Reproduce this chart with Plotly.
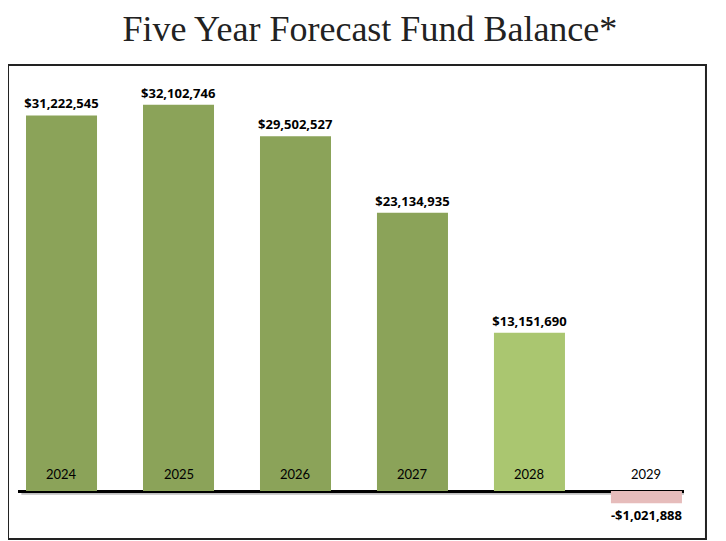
import plotly.graph_objects as go

years = ["2024", "2025", "2026", "2027", "2028", "2029"]
balances = [31222545, 32102746, 29502527, 23134935, 13151690, -1021888]
bar_colors = ["#8BA359", "#8BA359", "#8BA359", "#8BA359", "#AAC670", "#E6BCBB"]

def fmt(v):
    return ("-$" if v < 0 else "$") + f"{abs(v):,}"

labels = [fmt(v) for v in balances]
xpos = list(range(len(years)))

fig = go.Figure()
fig.add_trace(go.Bar(
    x=xpos, y=balances,
    marker=dict(color=bar_colors, line=dict(width=0)),
    width=0.607,
    text=labels, textposition="outside", constraintext="none",
    textfont=dict(family="Open Sans, Lato, sans-serif", size=13, color="#000000", weight="bold"),
    cliponaxis=False,
    hoverinfo="skip",
))

for i, yr in enumerate(years):
    fig.add_annotation(x=i, y=0, text=yr, showarrow=False, yanchor="bottom", yshift=7,
                       font=dict(family="Lato, Open Sans, sans-serif", size=13, color="#000000"))

# soft shadow under the baseline
fig.add_shape(type="line", xref="paper", yref="y", x0=0.005, x1=1.0, y0=-0.22e6, y1=-0.22e6,
              line=dict(color="rgba(0,0,0,0.25)", width=2), layer="below")

# chart frame
fig.add_shape(type="rect", xref="paper", yref="paper", x0=-0.0150, x1=1.0330, y0=-0.0196, y1=1.0109,
              line=dict(color="#222222", width=2), fillcolor="rgba(0,0,0,0)", layer="below")

fig.update_layout(
    width=718, height=533,
    margin=dict(l=10, r=42, t=62, b=11),
    paper_bgcolor="white", plot_bgcolor="white",
    showlegend=False,
    title=dict(text="Five Year Forecast Fund Balance*", x=0.504, xanchor="center", y=0.9625, yanchor="middle",
               font=dict(family="Liberation Serif, Times New Roman, serif", size=36, color="#222222")),
    xaxis=dict(range=[-0.372, 5.321], showticklabels=False, showgrid=False, zeroline=False, showline=False, fixedrange=True),
    yaxis=dict(range=[-3.24e6, 35.0e6], showticklabels=False, showgrid=False, zeroline=True,
               zerolinecolor="#000000", zerolinewidth=3, showline=False),
)

fig.write_html("out.html")
